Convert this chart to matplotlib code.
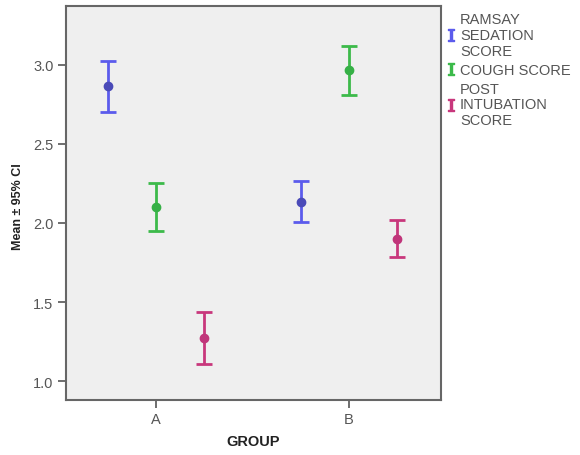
import matplotlib
matplotlib.use("Agg")
import matplotlib.pyplot as plt
from matplotlib.lines import Line2D
import numpy as np

plt.rcParams["font.family"] = ["Liberation Sans", "DejaVu Sans"]
plt.rcParams["mathtext.fontset"] = "dejavuserif"

groups = ["A", "B"]
series = ["RAMSAY\nSEDATION\nSCORE", "COUGH SCORE", "POST\nINTUBATION\nSCORE"]
means = {
    "RAMSAY\nSEDATION\nSCORE": [2.867, 2.133],
    "COUGH SCORE": [2.10, 2.968],
    "POST\nINTUBATION\nSCORE": [1.272, 1.899],
}
lower = {
    "RAMSAY\nSEDATION\nSCORE": [2.70, 2.006],
    "COUGH SCORE": [1.949, 2.81],
    "POST\nINTUBATION\nSCORE": [1.108, 1.785],
}
upper = {
    "RAMSAY\nSEDATION\nSCORE": [3.025, 2.266],
    "COUGH SCORE": [2.253, 3.12],
    "POST\nINTUBATION\nSCORE": [1.437, 2.019],
}
bar_colors = ["#5b5bec", "#3cba4a", "#c8377c"]
dot_colors = ["#4a4ab8", "#36b046", "#c0357a"]
offsets = [-0.25, 0.0, 0.25]

fig = plt.figure(figsize=(5.8, 4.56), dpi=100)
ax = fig.add_axes([66/580, 1-401/456, (441-66)/580, (401-7)/456])
ax.set_facecolor("#efefef")

x = np.arange(len(groups))
for s, bc, dc, off in zip(series, bar_colors, dot_colors, offsets):
    m = np.array(means[s]); lo = np.array(lower[s]); hi = np.array(upper[s])
    ax.errorbar(x + off, m, yerr=[m - lo, hi - m], fmt="none", ecolor=bc,
                elinewidth=2, capsize=6, capthick=2)
    ax.plot(x + off, m, "o", color=dc, markersize=6, markeredgecolor=dc)

ax.set_xlim(-0.466, 1.477)
ax.set_ylim(0.88, 3.373)
ax.set_xticks(x)
ax.set_xticklabels(groups)
ax.set_yticks([1.0, 1.5, 2.0, 2.5, 3.0])
ax.set_yticklabels(["1.0", "1.5", "2.0", "2.5", "3.0"])
ax.tick_params(axis="both", direction="out", length=6, width=1.2, color="#555555",
               labelcolor="#555555", labelsize=10.5, pad=3)
for sp in ax.spines.values():
    sp.set_color("#666666")
    sp.set_linewidth(1.5)

fig.text(18/580, 1-207/456, "Mean ± 95% CI", rotation=90, fontsize=9,
         fontweight="bold", color="#222222", ha="center", va="center")
fig.text(253/580, 1-442/456, "GROUP", fontsize=10.5, fontweight="bold",
         color="#222222", ha="center", va="center")

handles = [Line2D([], [], marker="$\\mathbf{I}$", linestyle="none", color=c, markersize=8)
           for c in bar_colors]
leg = fig.legend(handles, series, loc="upper left", bbox_to_anchor=(436/580, 1-3/456),
                 frameon=False, fontsize=10.5, handlelength=0.6, handletextpad=0.35,
                 labelspacing=0.35, borderpad=0.2, labelcolor="#555555")
for t in leg.get_texts():
    t.set_linespacing(1.15)
fig.savefig("out.png", dpi=100, facecolor="white")
